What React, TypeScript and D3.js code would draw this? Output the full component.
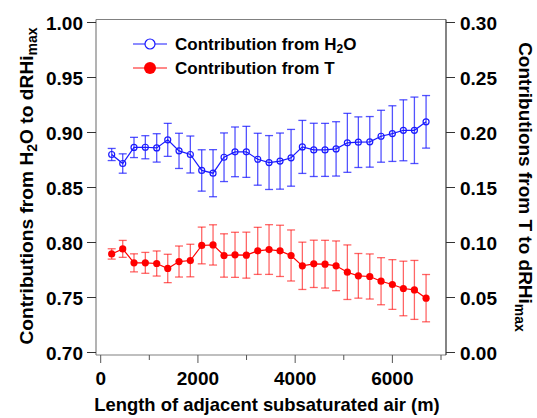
import React from "react";
import * as d3 from "d3";

const xValues = [226, 453, 685, 918, 1152, 1379, 1611, 1844, 2078, 2311, 2537, 2763, 2996, 3230, 3463, 3689, 3916, 4148, 4383, 4615, 4842, 5074, 5300, 5535, 5767, 6000, 6226, 6453, 6693];
const h2oValues = [0.880, 0.8718, 0.8864, 0.8866, 0.886, 0.8933, 0.8833, 0.880, 0.8655, 0.863, 0.8775, 0.8824, 0.8824, 0.8757, 0.8727, 0.874, 0.877, 0.8869, 0.8842, 0.8842, 0.8851, 0.8906, 0.8912, 0.8915, 0.8966, 0.899, 0.902, 0.902, 0.9097];
const h2oErrors = [0.0055, 0.0088, 0.0092, 0.0105, 0.0129, 0.015, 0.016, 0.0168, 0.0188, 0.0214, 0.0221, 0.0226, 0.0232, 0.0236, 0.0245, 0.0255, 0.0258, 0.0241, 0.0242, 0.0241, 0.0247, 0.0268, 0.023, 0.023, 0.0236, 0.0253, 0.0277, 0.0302, 0.0239];
const tValues = [0.0896, 0.0942, 0.0815, 0.0815, 0.0809, 0.0764, 0.0827, 0.0836, 0.0973, 0.0978, 0.0882, 0.0888, 0.0885, 0.0924, 0.0936, 0.0924, 0.0882, 0.0788, 0.0806, 0.0803, 0.0788, 0.073, 0.0697, 0.0691, 0.0648, 0.0618, 0.0582, 0.0569, 0.0494];
const tErrors = [0.0047, 0.0077, 0.0082, 0.0095, 0.0114, 0.0129, 0.0141, 0.0148, 0.0167, 0.0183, 0.0197, 0.0205, 0.0209, 0.0214, 0.0226, 0.0233, 0.0232, 0.0215, 0.0215, 0.0217, 0.0226, 0.0248, 0.0203, 0.0205, 0.0214, 0.0226, 0.0248, 0.0268, 0.0215];
const xTicks = [0, 1000, 2000, 3000, 4000, 5000, 6000, 7000];
const xLabelTicks = [0, 2000, 4000, 6000];
const leftTicks = [0.7, 0.75, 0.8, 0.85, 0.9, 0.95, 1.0];
const rightTicks = [0.0, 0.05, 0.1, 0.15, 0.2, 0.25, 0.3];

const W = 537, H = 418;
const left = 96, right = 446, top = 19.5, bottom = 355;
const FONT = "'Liberation Sans', Arial, sans-serif";
const BLUE = "#1a1aff";
const RED = "#ff0000";

export default function App() {
  const x = d3.scaleLinear().domain([0, 7000]).range([100.7, 441]);
  const yL = d3.scaleLinear().domain([0.7, 1.0]).range([352.5, 22.5]);
  const yR = d3.scaleLinear().domain([0.0, 0.3]).range([352.5, 22.5]);

  const lineH = d3.line<number>().x((_, i) => x(xValues[i])).y((d) => yL(d));
  const lineT = d3.line<number>().x((_, i) => x(xValues[i])).y((d) => yR(d));
  const cap = 4;

  return (
    <svg width={W} height={H} style={{ position: "absolute", left: 0, top: 0, background: "#fff" }} fontFamily={FONT} fontWeight="bold">
      {/* frame */}
      <line x1={left} x2={right} y1={top} y2={top} stroke="#808080" strokeWidth={1.2} />
      <line x1={left} x2={left} y1={top} y2={bottom} stroke="#808080" strokeWidth={1.2} />
      <line x1={left} x2={right} y1={bottom} y2={bottom} stroke="#808080" strokeWidth={1.2} />
      <line x1={right} x2={right} y1={top} y2={bottom} stroke="#333" strokeWidth={1.2} />

      {/* x ticks */}
      {xTicks.map((t) => (
        <line key={"xt" + t} x1={x(t)} x2={x(t)} y1={bottom} y2={bottom + (t % 2000 === 0 ? 8 : 5)} stroke="#555" strokeWidth={1} />
      ))}
      {xLabelTicks.map((t) => (
        <text key={"xl" + t} x={x(t)} y={385} textAnchor="middle" fontSize={19} fill="#000">{t}</text>
      ))}
      <text x={267} y={411} textAnchor="middle" fontSize={18.4} fill="#000">Length of adjacent subsaturated air (m)</text>

      {/* left ticks */}
      {leftTicks.map((t) => (
        <g key={"lt" + t}>
          <line x1={left - 9} x2={left} y1={yL(t)} y2={yL(t)} stroke="#333" strokeWidth={1} />
          <text x={left - 13} y={yL(t) + 7} textAnchor="end" fontSize={19} fill="#000">{t.toFixed(2)}</text>
        </g>
      ))}
      {/* right ticks */}
      {rightTicks.map((t) => (
        <g key={"rt" + t}>
          <line x1={right} x2={right + 9} y1={yR(t)} y2={yR(t)} stroke="#333" strokeWidth={1} />
          <text x={right + 14} y={yR(t) + 7} textAnchor="start" fontSize={19} fill="#000">{t.toFixed(2)}</text>
        </g>
      ))}

      {/* left title */}
      <text transform={`translate(33, 186) rotate(-90)`} textAnchor="middle" fontSize={19.2} fill="#000">
        Contributions from H<tspan baselineShift="-25%" fontSize={14}>2</tspan>O to dRHi<tspan baselineShift="-25%" fontSize={14}>max</tspan>
      </text>
      {/* right title */}
      <text transform={`translate(519, 187) rotate(90)`} textAnchor="middle" fontSize={19} fill="#000">
        Contributions from T to dRHi<tspan baselineShift="-25%" fontSize={14}>max</tspan>
      </text>

      {/* H2O series */}
      <g>
        {h2oValues.map((v, i) => {
          const cx = x(xValues[i]);
          const y1 = yL(v + h2oErrors[i]);
          const y2 = yL(v - h2oErrors[i]);
          return (
            <g key={"he" + i} stroke={BLUE} strokeOpacity={0.75} strokeWidth={1.3}>
              <line x1={cx} x2={cx} y1={y1} y2={y2} />
              <line x1={cx - cap} x2={cx + cap} y1={y1} y2={y1} />
              <line x1={cx - cap} x2={cx + cap} y1={y2} y2={y2} />
            </g>
          );
        })}
        <path d={lineH(h2oValues) || ""} fill="none" stroke={BLUE} strokeWidth={1.2} />
        {h2oValues.map((v, i) => (
          <circle key={"hc" + i} cx={x(xValues[i])} cy={yL(v)} r={3} fill="none" stroke={BLUE} strokeWidth={1.2} />
        ))}
      </g>

      {/* T series */}
      <g>
        {tValues.map((v, i) => {
          const cx = x(xValues[i]);
          const y1 = yR(v + tErrors[i]);
          const y2 = yR(v - tErrors[i]);
          return (
            <g key={"te" + i} stroke={RED} strokeOpacity={0.6} strokeWidth={1.3}>
              <line x1={cx} x2={cx} y1={y1} y2={y2} />
              <line x1={cx - cap} x2={cx + cap} y1={y1} y2={y1} />
              <line x1={cx - cap} x2={cx + cap} y1={y2} y2={y2} />
            </g>
          );
        })}
        <path d={lineT(tValues) || ""} fill="none" stroke={RED} strokeWidth={1.2} />
        {tValues.map((v, i) => (
          <circle key={"tc" + i} cx={x(xValues[i])} cy={yR(v)} r={3.6} fill={RED} />
        ))}
      </g>

      {/* legend */}
      <g>
        <line x1={133} x2={167} y1={44} y2={44} stroke={BLUE} strokeWidth={1.2} />
        <circle cx={150} cy={44} r={5} fill="#fff" stroke={BLUE} strokeWidth={1.2} />
        <text x={175} y={50} fontSize={17} fill="#000">Contribution from H<tspan baselineShift="-25%" fontSize={12}>2</tspan>O</text>
        <line x1={133} x2={167} y1={68} y2={68} stroke="#ff6060" strokeWidth={1.4} />
        <circle cx={150} cy={68} r={6} fill={RED} />
        <text x={175} y={74} fontSize={17} fill="#000">Contribution from T</text>
      </g>
    </svg>
  );
}
